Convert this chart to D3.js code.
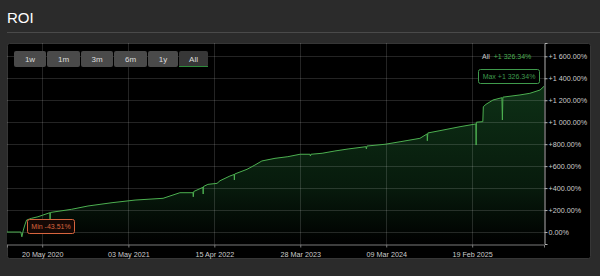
<!DOCTYPE html>
<html>
<head>
<meta charset="utf-8">
<script src="https://cdn.jsdelivr.net/npm/d3@7"></script>
<style>
  body { margin: 0; background: #2b2b2b; }
  text { font-family: "Liberation Sans", Arial, sans-serif; }
</style>
</head>
<body>
<script>
// ROI line chart

// dates of each point and ROI in %
const dates = [
    "2019-12-30", "2020-02-24", "2020-02-28", "2020-03-05", "2020-03-11", "2020-03-18",
    "2020-04-07", "2020-05-03", "2020-06-20", "2020-06-21", "2020-06-22", "2020-09-16",
    "2020-11-21", "2021-02-26", "2021-05-30", "2021-09-20", "2021-11-27", "2022-01-19",
    "2022-01-20", "2022-01-22", "2022-02-28", "2022-03-01", "2022-03-02", "2022-03-20",
    "2022-04-26", "2022-05-08", "2022-06-17", "2022-07-04", "2022-07-05", "2022-07-06",
    "2022-08-25", "2022-09-26", "2022-10-24", "2022-12-16", "2023-02-06", "2023-03-27",
    "2023-05-06", "2023-05-08", "2023-05-10", "2023-06-24", "2023-08-15", "2023-10-07",
    "2023-12-18", "2023-12-20", "2023-12-22", "2024-03-04", "2024-05-04", "2024-07-23",
    "2024-08-21", "2024-08-22", "2024-08-24", "2024-10-12", "2025-01-01", "2025-03-06",
    "2025-03-07", "2025-03-08", "2025-04-03", "2025-04-05", "2025-04-16", "2025-05-14",
    "2025-06-19", "2025-06-21", "2025-06-23", "2025-08-31", "2025-10-10", "2025-11-20",
    "2025-12-06"
];
const roi = [
    0, 0, -43.51, 18, 64, 109,
    125, 139, 176, 109, 178, 207,
    237, 267, 291, 307, 358, 358,
    321, 369, 407, 346, 414, 434,
    443, 467, 510, 524, 474, 528,
    571, 610, 647, 671, 686, 708,
    708, 692, 708, 717, 738, 756,
    777, 756, 783, 799, 822, 853,
    893, 831, 902, 923, 959, 984,
    792, 1000, 1005, 1141, 1163, 1202,
    1223, 1020, 1228, 1248, 1263, 1293,
    1326.34
];

// axis ticks
const xTickDates = ["2020-05-20", "2021-05-03", "2022-04-15", "2023-03-28", "2024-03-09", "2025-02-19"];
const yTickValues = [0, 200, 400, 600, 800, 1000, 1200, 1400, 1600];
const rangeButtons = ["1w", "1m", "3m", "6m", "1y", "All"];

const parse = d3.timeParse("%Y-%m-%d");
const points = dates.map((d, i) => ({date: parse(d), value: roi[i]}));

const width = 600, height = 276;
const plot = {left: 7, right: 544, top: 43, bottom: 244};

const svg = d3.select("body")
    .append("svg")
    .attr("width", width)
    .attr("height", height);

// title and separator
svg.append("text")
    .attr("x", 7)
    .attr("y", 23)
    .attr("fill", "#ffffff")
    .attr("font-size", 15)
    .text("ROI");
svg.append("line")
    .attr("x1", 7).attr("x2", 600)
    .attr("y1", 32.5).attr("y2", 32.5)
    .attr("stroke", "#4a4a4a");

// black panel
svg.append("rect")
    .attr("x", 7.5).attr("y", 43.5)
    .attr("width", 583).attr("height", 215)
    .attr("rx", 2)
    .attr("fill", "#000000")
    .attr("stroke", "#363636");

var x = d3.scaleTime()
    .domain([parse("2019-12-30"), parse("2025-12-06")])
    .range([plot.left, plot.right]);

var y = d3.scaleLinear()
    .domain([-109, 1721])
    .range([plot.bottom, plot.top]);

// gradient under the line
const defs = svg.append("defs");
const grad = defs.append("linearGradient")
    .attr("id", "roiFill")
    .attr("gradientUnits", "userSpaceOnUse")
    .attr("x1", 0).attr("x2", 0)
    .attr("y1", plot.top + 20).attr("y2", plot.bottom);
grad.append("stop").attr("offset", "0%").attr("stop-color", "#0f3518");
grad.append("stop").attr("offset", "70%").attr("stop-color", "#071a0c");
grad.append("stop").attr("offset", "100%").attr("stop-color", "#000000");

const area = d3.area()
    .x(d => x(d.date))
    .y0(plot.bottom)
    .y1(d => y(d.value));

const line = d3.line()
    .x(d => x(d.date))
    .y(d => y(d.value));

svg.append("path")
    .datum(points)
    .attr("fill", "url(#roiFill)")
    .attr("d", area);

// grid lines
svg.append("g")
    .selectAll("line")
    .data(yTickValues)
    .enter()
    .append("line")
    .attr("x1", plot.left).attr("x2", plot.right)
    .attr("y1", d => Math.round(y(d)) + 0.5)
    .attr("y2", d => Math.round(y(d)) + 0.5)
    .attr("stroke", "#ffffff")
    .attr("stroke-opacity", 0.14);

svg.append("g")
    .selectAll("line")
    .data(xTickDates)
    .enter()
    .append("line")
    .attr("x1", d => Math.round(x(parse(d))) + 0.5)
    .attr("x2", d => Math.round(x(parse(d))) + 0.5)
    .attr("y1", plot.top).attr("y2", plot.bottom)
    .attr("stroke", "#ffffff")
    .attr("stroke-opacity", 0.14);

svg.append("path")
    .datum(points)
    .attr("fill", "none")
    .attr("stroke", "#4caf50")
    .attr("stroke-width", 1)
    .attr("d", line);

// x axis
const xAxis = svg.append("g")
    .attr("transform", `translate(0,${plot.bottom + 0.5})`)
    .call(d3.axisBottom(x)
        .tickValues(xTickDates.map(parse))
        .tickFormat(d3.timeFormat("%d %b %Y"))
        .tickSizeOuter(0)
        .tickSize(3));
xAxis.select(".domain").attr("stroke", "#7a7a7a");
xAxis.selectAll(".tick line").attr("stroke", "#7a7a7a");
xAxis.selectAll("text")
    .attr("fill", "#cccccc")
    .attr("font-size", 7.2)
    .attr("dy", "0.9em");

// y axis on the right
const loc = d3.formatLocale({decimal: ".", thousands: " ", grouping: [3], currency: ["", ""], minus: "-"});
const fmt = loc.format(",.2f");
const pct = v => (v > 0 ? "+" : "") + fmt(v) + "%";

const yAxis = svg.append("g")
    .attr("transform", `translate(${plot.right + 0.5},0)`)
    .call(d3.axisRight(y)
        .tickValues(yTickValues)
        .tickFormat(pct)
        .tickSizeOuter(0)
        .tickSize(3));
yAxis.select(".domain").attr("stroke", "#b0b0b0");
yAxis.selectAll(".tick line").attr("stroke", "#b0b0b0");
yAxis.selectAll("text")
    .attr("fill", "#cccccc")
    .attr("font-size", 7.2)
    .attr("x", 4);

// range buttons
const btnX = [14, 47, 81, 114, 148, 179];
const btnW = [32, 33, 32, 33, 30, 29];
const btns = svg.append("g")
    .selectAll("g")
    .data(rangeButtons)
    .enter()
    .append("g")
    .attr("transform", (d, i) => `translate(${btnX[i]},51)`);
btns.append("rect")
    .attr("width", (d, i) => btnW[i])
    .attr("height", 16)
    .attr("rx", 2)
    .attr("fill", d => d === "All" ? "#373737" : "#4a4a4a");
btns.filter(d => d === "All")
    .append("rect")
    .attr("y", 15)
    .attr("width", (d) => btnW[5])
    .attr("height", 1)
    .attr("fill", "#2f8a3c");
btns.append("text")
    .attr("x", (d, i) => btnW[i] / 2)
    .attr("y", 11)
    .attr("text-anchor", "middle")
    .attr("font-size", 8)
    .attr("fill", "#dddddd")
    .text(d => d);

// current value in the corner
const last = points[points.length - 1];
const summary = svg.append("text")
    .attr("x", 482)
    .attr("y", 59)
    .attr("font-size", 7);
summary.append("tspan").attr("fill", "#cccccc").text("All");
summary.append("tspan").attr("fill", "#4caf50").attr("dx", 4).text(pct(last.value));

// min / max labels
const minPt = points[d3.minIndex(points, d => d.value)];
const maxPt = points[d3.maxIndex(points, d => d.value)];

function flag(pt, label, color, fill, dx, dy, w) {
    const g = svg.append("g");
    const bx = dx >= 0 ? x(pt.date) + dx : x(pt.date) + dx - w;
    const by = y(pt.value) + dy - 14;
    g.append("rect")
        .attr("x", Math.round(bx) + 0.5)
        .attr("y", Math.round(by) + 0.5)
        .attr("width", w).attr("height", 14)
        .attr("rx", 2)
        .attr("fill", fill)
        .attr("stroke", color);
    g.append("text")
        .attr("x", Math.round(bx) + w / 2 + 0.5)
        .attr("y", Math.round(by) + 10)
        .attr("text-anchor", "middle")
        .attr("font-size", 7)
        .attr("fill", color)
        .text(label);
}
flag(minPt, "Min " + fmt(minPt.value) + "%", "#d8653e", "#140805", 5, -4, 47);
flag(maxPt, "Max " + pct(maxPt.value), "#3f9a4c", "#000000", -5, -3, 61);
</script>
</body>
</html>
